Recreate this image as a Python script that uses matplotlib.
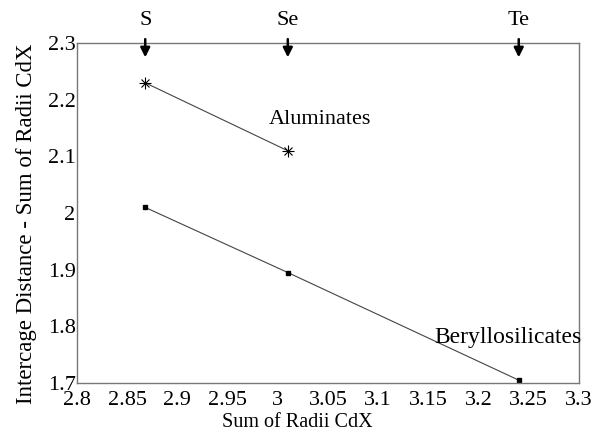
import numpy as np
import matplotlib
matplotlib.use("Agg")
import matplotlib.pyplot as plt

plt.rcParams['font.family'] = ['Liberation Serif', 'DejaVu Serif']

# data
alum_x = [2.868, 3.01]
alum_y = [2.23, 2.11]
bery_x = [2.868, 3.01, 3.24]
bery_y = [2.01, 1.895, 1.705]

arrow_labels = ['S', 'Se', 'Te']
arrow_x = [2.868, 3.01, 3.24]

x_ticks = [2.8, 2.85, 2.9, 2.95, 3.0, 3.05, 3.1, 3.15, 3.2, 3.25, 3.3]
x_ticklabels = ['2.8', '2.85', '2.9', '2.95', '3', '3.05', '3.1', '3.15', '3.2', '3.25', '3.3']
y_ticks = [1.7, 1.8, 1.9, 2.0, 2.1, 2.2, 2.3]
y_ticklabels = ['1.7', '1.8', '1.9', '2', '2.1', '2.2', '2.3']

fig = plt.figure(figsize=(5.92, 4.36), dpi=100)
ax = fig.add_axes([0.130, 0.1216, 0.848, 0.7794])

ax.plot(alum_x, alum_y, color='#444444', lw=0.8, marker='x', ms=6, mec='black', mew=0.8)
ax.plot(alum_x, alum_y, ls='none', marker='+', ms=8, mec='black', mew=0.8)
ax.plot(bery_x, bery_y, color='#444444', lw=0.8, marker='s', ms=2.5, mfc='black', mec='black')

ax.set_xlim(2.8, 3.3)
ax.set_ylim(1.7, 2.3)
ax.set_xticks(x_ticks)
ax.set_xticklabels(x_ticklabels)
ax.set_yticks(y_ticks)
ax.set_yticklabels(y_ticklabels)
ax.tick_params(length=0, labelsize=16)
ax.tick_params(axis='x', pad=6)
ax.tick_params(axis='y', pad=1)
for s in ax.spines.values():
    s.set_color('#777777')
    s.set_linewidth(1.0)

ax.set_xlabel('Sum of Radii CdX', fontsize=14.5)
ax.xaxis.set_label_coords(0.438, -0.088)
ax.set_ylabel('Intercage Distance - Sum of Radii CdX', fontsize=16.5)
ax.yaxis.set_label_coords(-0.08, 0.47)

ax.text(3.042, 2.165, 'Aluminates', fontsize=16, ha='center', va='center')
ax.text(3.229, 1.78, 'Beryllosilicates', fontsize=17, ha='center', va='center')

for lab, xv in zip(arrow_labels, arrow_x):
    ax.annotate('', xy=(xv, 2.27), xytext=(xv, 2.312),
                arrowprops=dict(arrowstyle='-|>', color='black', lw=1.8, mutation_scale=14),
                annotation_clip=False)
    ax.text(xv, 2.34, lab, fontsize=16, ha='center', va='center')

fig.savefig('out.png', dpi=100)
